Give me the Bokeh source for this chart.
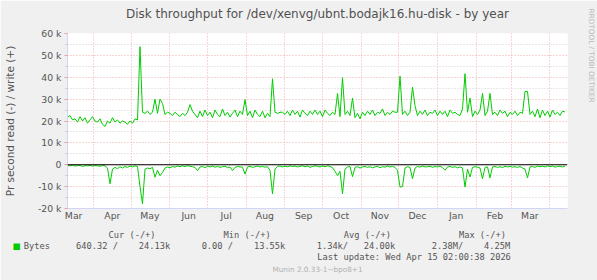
from datetime import datetime, timedelta
from bokeh.plotting import figure
from bokeh.models import FixedTicker, Range1d, Span, Title
from bokeh.embed import file_html
from bokeh.resources import INLINE

# ---------------- data ----------------
# samples every 2 days starting 2025-03-11 02:00:38 (values in k bytes/s)
write_k = [
    21.8, 22.5, 20.5, 21.0, 19.5, 22.0, 20.0, 21.5, 19.0, 20.5,
    22.0, 20.0, 19.5, 21.0, 18.5, 17.5, 20.0, 19.0, 21.5, 19.5,
    20.5, 19.0, 20.0, 19.5, 18.5, 20.0, 19.0, 21.0, 20.5, 54.0,
    24.0, 23.5, 24.5, 23.0, 24.0, 30.0, 23.5, 30.0, 28.0, 23.0,
    24.0, 23.5, 22.5, 24.0, 23.0, 22.0, 23.5, 22.5, 24.0, 27.5,
    24.5, 23.0, 21.5, 24.5, 22.0, 25.0, 22.5, 24.0, 21.5, 25.0,
    23.0, 22.0, 25.5, 22.5, 24.0, 21.8, 23.5, 25.0, 22.0, 24.5,
    23.0, 29.8, 22.5, 24.5, 21.5, 25.0, 23.0, 22.0, 24.5, 21.5,
    23.5, 22.0, 39.3, 24.0, 23.5, 24.0, 24.0, 23.0, 24.5, 22.5,
    25.0, 23.0, 24.5, 21.8, 25.0, 23.5, 22.5, 24.5, 23.0, 25.0,
    23.0, 24.5, 22.0, 25.0, 23.5, 22.5, 24.0, 23.0, 32.6, 22.0,
    39.8, 23.0, 24.5, 22.5, 30.5, 21.5, 23.5, 21.0, 24.0, 22.5,
    24.5, 23.0, 25.0, 22.5, 24.0, 23.5, 25.5, 22.5, 24.0, 23.0,
    24.5, 24.0, 24.0, 40.5, 23.0, 24.5, 22.5, 24.0, 35.5, 27.0,
    22.5, 24.5, 23.0, 25.0, 22.5, 24.0, 23.5, 25.0, 22.5, 24.5,
    23.0, 24.5, 22.0, 25.0, 23.5, 24.0, 23.0, 22.5, 25.5, 41.6,
    24.0, 30.5, 22.0, 24.5, 23.0, 25.0, 32.6, 22.5, 24.5, 32.6,
    23.0, 24.0, 22.5, 25.0, 23.5, 24.5, 22.0, 24.0, 23.0, 24.5,
    22.5, 24.0, 23.5, 33.5, 33.5, 23.0, 24.5, 22.0, 25.5, 21.5,
    25.0, 22.5, 24.5, 21.8, 25.0, 23.0, 24.0, 22.5, 24.5, 24.13,
]
read_k = [
    -0.3, -0.5, -0.2, -0.6, -0.4, -0.3, -0.8, -0.4, -0.5, -0.3,
    -0.6, -0.4, -0.5, -0.7, -0.3, -0.5, -1.5, -8.7, -2.0, -1.2,
    -1.8, -0.9, -1.5, -0.8, -1.2, -0.6, -1.0, -0.5, -0.8, -10.0,
    -17.8, -2.0, -1.5, -1.8, -1.2, -5.7, -2.5, -5.0, -3.5, -1.5,
    -1.0, -1.4, -0.8, -1.1, -0.6, -0.9, -0.5, -0.8, -0.4, -0.7,
    -0.9, -1.2, -2.7, -1.0, -0.8, -1.3, -0.7, -1.0, -0.6, -1.1,
    -0.8, -1.2, -0.9, -0.7, -1.3, -1.0, -2.7, -1.2, -0.8, -1.0,
    -1.1, -4.3, -1.0, -0.7, -1.2, -0.9, -0.6, -1.0, -0.8, -1.1,
    -0.9, -2.5, -13.3, -2.0, -0.8, -0.6, -1.0, -0.7, -0.9, -0.5,
    -0.8, -0.6, -1.0, -0.7, -0.5, -0.9, -0.6, -1.2, -0.8, -0.5,
    -0.7, -1.0, -0.6, -0.9, -0.5, -0.8, -1.3, -3.0, -5.0, -3.0,
    -13.3, -2.0, -1.0, -0.8, -5.4, -1.2, -0.9, -1.5, -1.0, -0.8,
    -1.2, -0.9, -1.4, -1.0, -0.7, -1.3, -0.9, -1.1, -0.6, -1.0,
    -0.8, -1.2, -2.5, -10.2, -10.0, -1.5, -0.9, -1.2, -6.4, -1.5,
    -0.8, -1.1, -0.6, -1.0, -0.9, -0.7, -1.2, -0.8, -1.0, -0.6,
    -1.3, -2.5, -1.0, -0.8, -1.2, -0.9, -1.4, -1.0, -1.5, -10.2,
    -2.0, -5.6, -1.2, -0.9, -1.1, -1.5, -6.4, -1.2, -1.0, -6.0,
    -1.0, -0.8, -1.2, -0.9, -1.3, -0.7, -1.0, -0.8, -1.1, -0.9,
    -1.2, -0.8, -1.5, -2.0, -6.0, -1.0, -0.8, -1.2, -0.6, -0.9,
    -0.7, -1.0, -0.5, -0.9, -0.6, -1.1, -0.8, -0.7, -1.0, -0.64,
]
y_major = [-20000, -10000, 0, 10000, 20000, 30000, 40000, 50000, 60000]
y_minor = [-15000, -5000, 5000, 15000, 25000, 35000, 45000, 55000]
y_labels = ["-20 k", "-10 k", "0", "10 k", "20 k", "30 k", "40 k", "50 k", "60 k"]
month_names = ["Mar", "Apr", "May", "Jun", "Jul", "Aug", "Sep", "Oct", "Nov", "Dec", "Jan", "Feb", "Mar"]
month_years = [2025] * 10 + [2026] * 3
month_nums = [3, 4, 5, 6, 7, 8, 9, 10, 11, 12, 1, 2, 3]

title_text = "Disk throughput for /dev/xenvg/ubnt.bodajk16.hu-disk - by year"
ylabel_text = "Pr second read (-) / write (+)"
header_tokens = [(108, "Cur (-/+)"), (225.7, "Min (-/+)"), (342, "Avg (-/+)"), (458, "Max (-/+)")]
legend_tokens = [(23.3, "Bytes"), (78, "640.32 /"), (136.7, "24.13k"), (202.7, "0.00 /"),
                 (251.7, "13.55k"), (316.7, "1.34k/"), (365.7, "24.00k"), (431, "2.38M/"),
                 (482.3, "4.25M")]
update_text = "Last update: Wed Apr 15 02:00:38 2026"
munin_text = "Munin 2.0.33-1~bpo8+1"
rrd_text = "RRDTOOL / TOBI OETIKER"

# ---------------- helpers ----------------
W, H = 597, 280
FL, FR, FT, FB = 67, 567, 33, 208
FCX = (FL + FR) / 2
CW = 5.24  # monospace char width at 8.7px
start = datetime(2025, 3, 11, 2, 0, 38)
end = start + timedelta(days=400)
epoch = datetime(1970, 1, 1)


def ms(dt):
    return (dt - epoch).total_seconds() * 1000.0


def pad_row(tokens):
    x0 = tokens[0][0]
    s, cur = "", x0
    for x, t in tokens:
        n = round((x - cur) / CW)
        if s:
            n = max(1, n)
        s += "\u00a0" * n + t
        cur += (n + len(t)) * CW
    return x0, s


def make_title(text, size, font="DejaVu Sans Mono", color="#555555", align="left",
               offset=0.0, standoff=0.0, valign="bottom", pad=None):
    kw = dict(text=text, align=align, offset=offset, standoff=standoff,
              vertical_align=valign, text_font=font, text_font_size=size,
              text_font_style="normal", text_color=color)
    if pad is not None:
        try:
            return Title(padding=pad, **kw)
        except Exception:
            pass
    return Title(**kw)


xs = [start + timedelta(days=2 * i) for i in range(len(write_k))]
xr = [start + timedelta(days=2 * i) for i in range(len(read_k))]
write = [v * 1000 for v in write_k]
read = [v * 1000 for v in read_k]

p = figure(width=W, height=H, x_axis_type="datetime", output_backend="svg",
           toolbar_location=None, x_range=Range1d(start, end),
           y_range=Range1d(-20000, 60000), title=None,
           min_border_left=FL, min_border_right=W - FR, min_border_top=FT,
           min_border_bottom=H - FB, background_fill_color="white",
           border_fill_color="#F0F0F0", outline_line_color=None)

# grids
p.ygrid.ticker = FixedTicker(ticks=y_major, minor_ticks=y_minor)
p.ygrid.grid_line_color = "#F0AAAA"
p.ygrid.grid_line_dash = "1 2"
p.ygrid.minor_grid_line_color = "#D0D0D0"
p.ygrid.minor_grid_line_dash = "1 2"
month_starts = [ms(datetime(y, m, 1)) for y, m in zip(month_years[1:], month_nums[1:])]
month_starts.append(ms(datetime(2026, 4, 1)))
p.xgrid.ticker = FixedTicker(ticks=month_starts)
p.xgrid.grid_line_color = "#F0AAAA"
p.xgrid.grid_line_dash = "1 2"

# axes
axc = "#CFD6F8"
p.yaxis.ticker = FixedTicker(ticks=y_major, minor_ticks=y_minor)
p.yaxis.major_label_overrides = {t: l for t, l in zip(y_major, y_labels)}
p.yaxis.axis_line_color = axc
p.yaxis.major_tick_line_color = "#E8A0A0"
p.yaxis.major_tick_out = 3
p.yaxis.major_tick_in = 0
p.yaxis.minor_tick_line_color = "#C8C8C8"
p.yaxis.minor_tick_out = 2
p.yaxis.minor_tick_in = 0
p.yaxis.major_label_standoff = 3
p.yaxis.axis_label = ylabel_text
p.yaxis.axis_label_standoff = 19
p.yaxis.axis_label_text_font = "DejaVu Sans"
p.yaxis.axis_label_text_font_size = "10.5px"
p.yaxis.axis_label_text_font_style = "normal"
p.yaxis.axis_label_text_color = "#555555"
mids = [ms(datetime(y, m, 16)) for y, m in zip(month_years, month_nums)]
p.xaxis.ticker = FixedTicker(ticks=mids, minor_ticks=[])
p.xaxis.major_label_overrides = {t: l for t, l in zip(mids, month_names)}
p.xaxis.axis_line_color = axc
p.xaxis.major_tick_line_color = None
p.xaxis.major_tick_out = 0
p.xaxis.major_tick_in = 0
p.xaxis.minor_tick_line_color = None
p.xaxis.major_label_standoff = 1
for ax in (p.xaxis, p.yaxis):
    ax.major_label_text_font = "DejaVu Sans"
    ax.major_label_text_font_size = "9.3px"
    ax.major_label_text_color = "#555555"

# series
p.line(xs, write, line_color="#00CC00", line_width=1)
p.line(xr, read, line_color="#00CC00", line_width=1)
p.add_layout(Span(location=0, dimension="width", line_color="black", line_width=1))

# main title (panel above the frame)
t_main = make_title(title_text, "12px", font="DejaVu Sans", color="#505050", align="center",
                    offset=299 - FCX, standoff=0,
                    pad=dict(left=0, right=0, top=0, bottom=13))
p.add_layout(t_main, "above")

# right vertical credit
t_rrd = make_title(rrd_text, "7.3px", font="DejaVu Sans", color="#BBBBBB", align="left",
                   offset=8 - FT, standoff=0, pad=dict(left=0, right=0, top=0, bottom=19))
p.add_layout(t_rrd, "right")

# stacked rows below the x axis: (text, target centre y, font, size, est. height, x, colour)
hx, hrow = pad_row(header_tokens)
lx, lrow = pad_row(legend_tokens)
rows = [
    (hrow, 234.0, "DejaVu Sans Mono", "8.7px", 10.2, hx, "#555555", "left"),
    ("\u25a0", 245.0, "DejaVu Sans", "8.5px", 9.9, 12.0, "#00CC00", "left"),
    (lrow, 245.7, "DejaVu Sans Mono", "8.7px", 10.2, lx, "#555555", "left"),
    (update_text, 257.3, "DejaVu Sans Mono", "8.7px", 10.2, 510.7 - len(update_text) * CW,
     "#555555", "left"),
    (munin_text, 269.3, "DejaVu Sans", "7.3px", 8.5, 261, "#B0B0B0", "center"),
]
top = 222.9  # bottom of the x-axis panel
below = [p.below[0]]
for text, c, font, size, hgt, x, col, al in rows:
    if c >= top + 1:
        valign, ph = "bottom", 2 * (c - top) - 2
    else:
        valign, ph = "top", max(0.0, 2 * (c - top) + 2)
    s = ph - 2 - hgt
    off = (x - FL) if al == "left" else (x - FCX)
    below.append(make_title(text, size, font=font, color=col, align=al, offset=off,
                            standoff=s, valign=valign))
    top += ph
p.below = below

open("out.html", "w").write(file_html(p, INLINE))
